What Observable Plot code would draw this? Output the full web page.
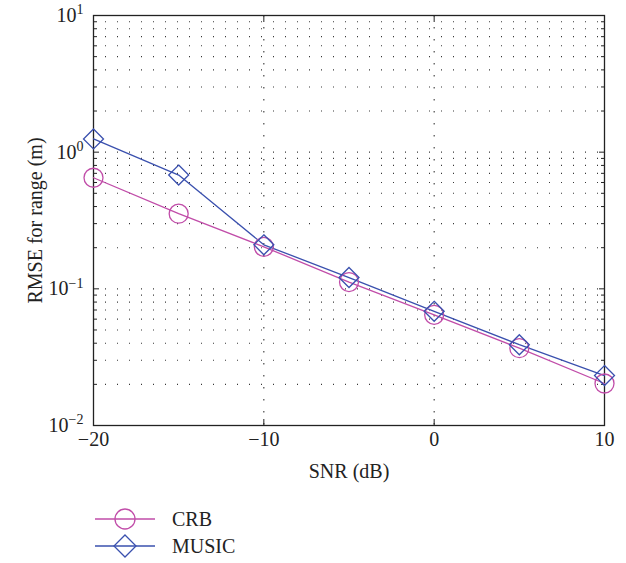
<!DOCTYPE html>
<html><head><meta charset="utf-8">
<script src="https://cdn.jsdelivr.net/npm/d3@7"></script>
<script src="https://cdn.jsdelivr.net/npm/@observablehq/plot@0.6"></script>
</head><body style="margin:0;font-family:'Liberation Serif'"><div id="chart"></div>
<div id="legend" style="position:relative;height:73px;font-family:'Liberation Serif';font-size:20px;color:#222"></div>
<script>
const snr = [-20, -15, -10, -5, 0, 5, 10];
const crb = [0.65, 0.355, 0.203, 0.112, 0.0645, 0.0368, 0.0203];
const music = [1.25, 0.68, 0.21, 0.121, 0.0685, 0.039, 0.0232];
const seriesNames = ["CRB", "MUSIC"];
const seriesColors = ["#c14da9", "#3a50ae"];
const xTicks = [-20, -10, 0, 10];
const yTicks = [0.01, 0.1, 1, 10];
const yExp = [-2, -1, 0, 1];
const xLabel = "SNR (dB)";
const yLabel = "RMSE for range (m)";

const FONT = "Liberation Serif";
const crbData = snr.map((x, i) => ({x, y: crb[i]}));
const musicData = snr.map((x, i) => ({x, y: music[i]}));
const minor = [];
for (const d of [0.01, 0.1, 1]) for (let k = 2; k <= 9; k++) minor.push(+(d * k).toPrecision(3));
const gridY = minor.concat([0.1, 1]);

const W = 626, H = 490;
const plot = Plot.plot({
  width: W, height: H,
  marginLeft: 93, marginRight: 22, marginTop: 15, marginBottom: 65,
  style: "font-family: 'Liberation Serif'; font-size: 20px; color: #222; background: #fff; display: block;",
  x: {domain: [-20, 10]},
  y: {type: "log", domain: [0.01, 10]},
  marks: [
    Plot.ruleY(gridY, {stroke: "#222", strokeWidth: 1.1, strokeDasharray: "1,11", strokeOpacity: 0.9}),
    Plot.ruleX([-10, 0], {stroke: "#222", strokeWidth: 1.1, strokeDasharray: "1.5,10.5", strokeOpacity: 0.9}),
    Plot.axisY(minor, {anchor: "left", tickSize: -4, tickFormat: () => "", label: null, stroke: "#222"}),
    Plot.axisY(minor, {anchor: "right", tickSize: -4, tickFormat: () => "", label: null, stroke: "#222"}),
    Plot.axisY(yTicks, {anchor: "left", tickSize: -6, tickPadding: 16, tickFormat: (d) => "10^" + yExp[yTicks.indexOf(d)], label: yLabel, labelAnchor: "center", labelArrow: "none", labelOffset: 66, stroke: "#222"}),
    Plot.axisY(yTicks, {anchor: "right", tickSize: -6, tickFormat: () => "", label: null, stroke: "#222"}),
    Plot.axisX(xTicks, {anchor: "bottom", tickSize: -6, tickPadding: 12, label: xLabel, labelAnchor: "center", labelArrow: "none", labelOffset: 52, stroke: "#222"}),
    Plot.axisX(xTicks, {anchor: "top", tickSize: -6, tickFormat: () => "", label: null, stroke: "#222"}),
    Plot.frame({stroke: "#222", strokeWidth: 1.3}),
    Plot.line(crbData, {x: "x", y: "y", stroke: seriesColors[0], strokeWidth: 1.3}),
    Plot.line(musicData, {x: "x", y: "y", stroke: seriesColors[1], strokeWidth: 1.3}),
    Plot.dot(crbData, {x: "x", y: "y", r: 9.5, stroke: seriesColors[0], strokeWidth: 1.3, fill: "none"}),
    Plot.dot(musicData, {x: "x", y: "y", r: 9, symbol: "diamond2", stroke: seriesColors[1], strokeWidth: 1.3, fill: "none"})
  ]
});

d3.select(plot).attr("font-family", FONT);
d3.select(plot).selectAll("text").each(function() {
  const t = d3.select(this);
  t.attr("font-family", FONT);
  const s = t.text();
  const m = /^10\^(-?\d+)$/.exec(s);
  if (m) {
    t.text("");
    t.append("tspan").text("10");
    t.append("tspan").attr("dy", "-0.55em").attr("font-size", "14px").text(m[1].replace("-", "\u2212"));
  }
});
document.getElementById("chart").appendChild(plot);

// legend below the chart (HTML rows with small inline svg symbols)
const legend = d3.select("#legend");
seriesNames.forEach((name, i) => {
  const row = legend.append("div").style("position", "absolute").style("left", "95px").style("top", (17 + i * 27) + "px")
    .style("height", "24px").style("display", "flex").style("align-items", "center");
  const s = row.append("svg").attr("width", 62).attr("height", 24).style("display", "block");
  s.append("line").attr("x1", 0).attr("x2", 60).attr("y1", 12).attr("y2", 12).attr("stroke", seriesColors[i]).attr("stroke-width", 1.3);
  if (i === 0) s.append("circle").attr("cx", 30).attr("cy", 12).attr("r", 10).attr("fill", "none").attr("stroke", seriesColors[i]).attr("stroke-width", 1.3);
  else s.append("path").attr("d", "M30,1L41,12L30,23L19,12Z").attr("fill", "none").attr("stroke", seriesColors[i]).attr("stroke-width", 1.3);
  row.append("span").style("margin-left", "15px").style("line-height", "24px").text(name);
});
</script></body></html>
